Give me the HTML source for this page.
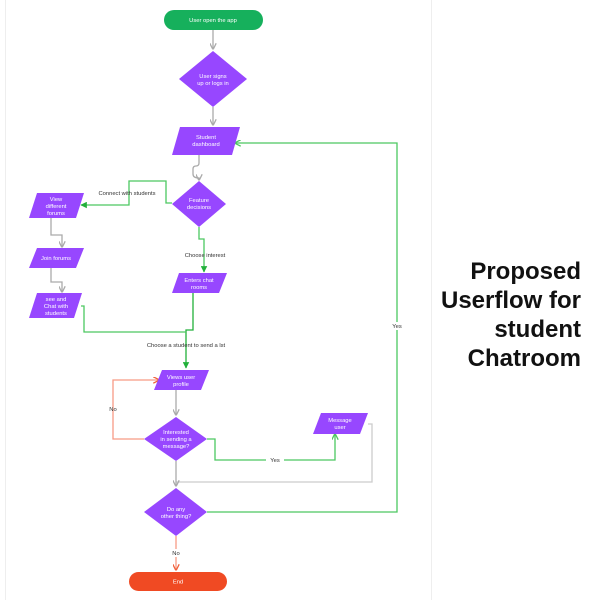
<!DOCTYPE html>
<html><head><meta charset="utf-8"><style>
html,body{margin:0;padding:0;background:#fff;width:600px;height:600px;overflow:hidden}
svg{position:absolute;left:0;top:0}
.t{font-family:"Liberation Sans",sans-serif;font-size:5.8px;fill:#fff;text-anchor:middle}
.l{font-family:"Liberation Sans",sans-serif;font-size:5.8px;fill:#333;text-anchor:middle}
.title{position:absolute;right:19px;top:257px;font-family:"Liberation Sans",sans-serif;font-weight:bold;font-size:24px;line-height:29px;text-align:right;color:#111}
</style></head><body>
<svg width="600" height="600" viewBox="0 0 600 600">
<defs>
<marker id="ag" viewBox="0 0 10 10" refX="9" refY="5" markerWidth="5" markerHeight="5" orient="auto"><path d="M0,0L10,5L0,10z" fill="#22b03a"/></marker>
<marker id="ay" viewBox="0 0 10 10" refX="9" refY="5" markerWidth="5" markerHeight="5" orient="auto"><path d="M0,0L10,5L0,10" fill="none" stroke="#aaa" stroke-width="2"/></marker>
<marker id="ar" viewBox="0 0 10 10" refX="9" refY="5" markerWidth="5" markerHeight="5" orient="auto"><path d="M0,0L10,5L0,10" fill="none" stroke="#f0603a" stroke-width="2"/></marker>
<marker id="ag2" viewBox="0 0 10 10" refX="9" refY="5" markerWidth="5" markerHeight="5" orient="auto"><path d="M0,0L10,5L0,10" fill="none" stroke="#4cc860" stroke-width="2"/></marker>
</defs>
<line x1="5.5" y1="0" x2="5.5" y2="600" stroke="#eee" stroke-width="1"/>
<line x1="431.5" y1="0" x2="431.5" y2="600" stroke="#eee" stroke-width="1"/>
<g fill="none" stroke-width="1.3">
<path d="M213,30V49" stroke="#aaa" marker-end="url(#ay)"/>
<path d="M213,107V125" stroke="#aaa" marker-end="url(#ay)"/>
<path d="M199,155v8q0,3 -3,3q-3,0 -3,3v5q0,4 6,4v2" stroke="#aaa" marker-end="url(#ay)"/>
<path d="M172,203h-6v-22h-37v24h-48" stroke="#4cc860" marker-end="url(#ag)"/>
<path d="M199,227v12h5v33" stroke="#4cc860" marker-end="url(#ag)"/>
<path d="M51,218v17h11v12" stroke="#aaa" marker-end="url(#ay)"/>
<path d="M51,268v14h11v10" stroke="#aaa" marker-end="url(#ay)"/>
<path d="M193,293v37h-7v38" stroke="#22b03a" marker-end="url(#ag)"/>
<path d="M81,306h3v26h102" stroke="#4cc860"/>
<path d="M176,390v25" stroke="#aaa" marker-end="url(#ay)"/>
<path d="M144,439h-31v-59h46" stroke="#f79a85" marker-end="url(#ar)"/>
<path d="M207,439h8v21h120v-26" stroke="#4cc860" marker-end="url(#ag2)"/>
<path d="M368,424h4v58h-196" stroke="#ccc"/>
<path d="M176,461v25" stroke="#aaa" marker-end="url(#ay)"/>
<path d="M207,512h190v-369h-162" stroke="#4cc860" marker-end="url(#ag2)"/>
<path d="M176,536v34" stroke="#f79a85" marker-end="url(#ar)"/>
</g>
<rect x="266" y="456" width="18" height="8" fill="#fff"/>
<rect x="390" y="322" width="14" height="8" fill="#fff"/>
<rect x="169" y="549" width="14" height="8" fill="#fff"/>
<text class="l" x="127" y="195">Connect with students</text>
<text class="l" x="205" y="257">Choose interest</text>
<text class="l" x="186" y="347">Choose a student to send a lst</text>
<text class="l" x="113" y="411">No</text>
<text class="l" x="275" y="462">Yes</text>
<text class="l" x="397" y="328">Yes</text>
<text class="l" x="176" y="555">No</text>
<rect x="164" y="10" width="99" height="20" rx="10" fill="#16b05c"/>
<text class="t" x="213" y="22">User open the app</text>
<polygon points="213,51 247,79 213,107 179,79" fill="#9747ff"/>
<text class="t" x="213" y="78">User signs</text><text class="t" x="213" y="85">up or logs in</text>
<polygon points="180,127 240,127 232,155 172,155" fill="#9747ff"/>
<text class="t" x="206" y="139">Student</text><text class="t" x="206" y="146">dashboard</text>
<polygon points="199,181 226,204 199,227 172,204" fill="#9747ff"/>
<text class="t" x="199" y="202">Feature</text><text class="t" x="199" y="209">decisions</text>
<polygon points="37,193 84,193 76,218 29,218" fill="#9747ff"/>
<text class="t" x="56" y="201">View</text><text class="t" x="56" y="208">different</text><text class="t" x="56" y="215">forums</text>
<polygon points="37,248 84,248 76,268 29,268" fill="#9747ff"/>
<text class="t" x="56" y="260">Join forums</text>
<polygon points="37,293 82,293 74,318 29,318" fill="#9747ff"/>
<text class="t" x="56" y="301">see and</text><text class="t" x="56" y="308">Chat with</text><text class="t" x="56" y="315">students</text>
<polygon points="179,273 227,273 219,293 172,293" fill="#9747ff"/>
<text class="t" x="199" y="282">Enters chat</text><text class="t" x="199" y="289">rooms</text>
<polygon points="162,370 209,370 201,390 154,390" fill="#9747ff"/>
<text class="t" x="181" y="379">Views user</text><text class="t" x="181" y="386">profile</text>
<polygon points="176,417 207,439 176,461 144,439" fill="#9747ff"/>
<text class="t" x="176" y="434">Interested</text><text class="t" x="176" y="441">in sending a</text><text class="t" x="176" y="448">message?</text>
<polygon points="321,413 368,413 360,434 313,434" fill="#9747ff"/>
<text class="t" x="340" y="422">Message</text><text class="t" x="340" y="429">user</text>
<polygon points="176,488 207,512 176,536 144,512" fill="#9747ff"/>
<text class="t" x="176" y="511">Do any</text><text class="t" x="176" y="518">other thing?</text>
<rect x="129" y="572" width="98" height="19" rx="9.5" fill="#f04a23"/>
<text class="t" x="178" y="583.5">End</text>
</svg>
<div class="title">Proposed<br>Userflow for<br>student<br>Chatroom</div>
</body></html>
